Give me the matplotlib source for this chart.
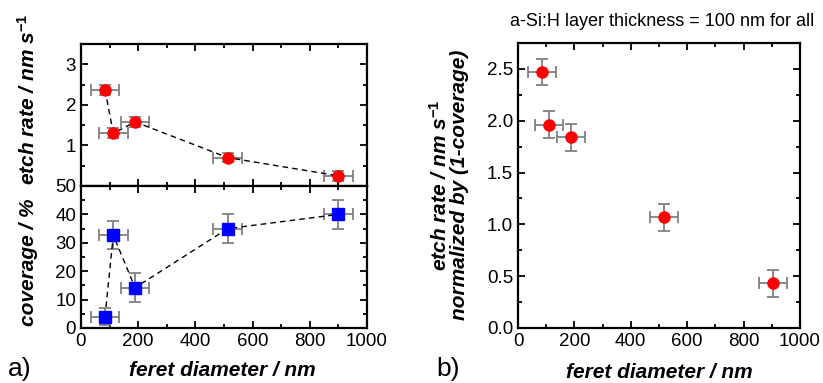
import numpy as np
import matplotlib.pyplot as plt
from matplotlib.ticker import MultipleLocator

plt.rcParams['font.family'] = ['Liberation Sans', 'DejaVu Sans']
plt.rcParams['mathtext.fontset'] = 'custom'
plt.rcParams['mathtext.it'] = 'Liberation Sans:italic:bold'
plt.rcParams['mathtext.rm'] = 'Liberation Sans:bold'

# data
feret = [84, 113, 189, 513, 900]
feret_err = [50, 50, 50, 50, 50]
etch = [2.37, 1.30, 1.58, 0.70, 0.25]
etch_err = [0.12, 0.12, 0.12, 0.12, 0.12]
cover = [4, 32.7, 14.2, 35, 40]
cover_err = [3, 5, 5, 5, 5]
feret_b = [85, 110, 188, 517, 905]
etch_norm = [2.47, 1.96, 1.84, 1.07, 0.43]
etch_norm_err = [0.13, 0.13, 0.13, 0.13, 0.13]

W, H = 823, 383
fig = plt.figure(figsize=(W/100, H/100), dpi=100)

def box(x0, y0, x1, y1):
    return fig.add_axes([x0/W, 1-y1/H, (x1-x0)/W, (y1-y0)/H])

ax1 = box(81, 44, 367, 186)
ax2 = box(81, 186, 367, 328)
ax3 = box(518, 43, 800, 328)

ebkw = dict(ecolor='#808080', elinewidth=1.3, capsize=4, capthick=1.3, linestyle='none')

ax1.errorbar(feret, etch, xerr=feret_err, yerr=etch_err, fmt='none', **ebkw)
ax1.plot(feret, etch, 'k--', lw=1, dashes=(4, 3))
ax1.plot(feret, etch, 'o', color='red', ms=8, zorder=5)

ax2.errorbar(feret, cover, xerr=feret_err, yerr=cover_err, fmt='none', **ebkw)
ax2.plot(feret, cover, 'k--', lw=1, dashes=(4, 3))
ax2.plot(feret, cover, 's', color='blue', ms=8, zorder=5)

ax3.errorbar(feret_b, etch_norm, xerr=feret_err, yerr=etch_norm_err, fmt='none', **ebkw)
ax3.plot(feret_b, etch_norm, 'o', color='red', ms=8, zorder=5)

for ax in (ax1, ax2, ax3):
    ax.set_xlim(0, 1000)
    ax.xaxis.set_major_locator(MultipleLocator(200))
    ax.xaxis.set_minor_locator(MultipleLocator(100))
    ax.tick_params(which='both', direction='in', top=True, right=True, labelsize=13.5, width=1.3)
    ax.tick_params(which='major', length=5)
    ax.tick_params(which='minor', length=3)
    for s in ax.spines.values():
        s.set_linewidth(1.6)

ax1.set_ylim(0, 3.5)
ax1.set_yticks([1, 2, 3])
ax1.yaxis.set_minor_locator(MultipleLocator(0.5))
ax1.tick_params(labelbottom=False)

ax2.set_ylim(0, 50)
ax2.yaxis.set_major_locator(MultipleLocator(10))
ax2.yaxis.set_minor_locator(MultipleLocator(5))

ax3.set_ylim(0, 2.75)
ax3.yaxis.set_major_locator(MultipleLocator(0.5))
ax3.yaxis.set_minor_locator(MultipleLocator(0.25))
ax3.yaxis.set_major_formatter(plt.FormatStrFormatter('%.1f'))

lab = dict(fontsize=15, fontweight='bold', fontstyle='italic')
fig.text(28/W, 1-99/H, 'etch rate / nm s$^{-1}$', rotation=90, ha='center', va='center', **lab)
fig.text(28/W, 1-262/H, 'coverage / %', rotation=90, ha='center', va='center', **lab)
fig.text(449/W, 1-185/H, 'etch rate / nm s$^{-1}$\nnormalized by (1-coverage)', rotation=90,
         ha='center', va='center', linespacing=0.9, **lab)

fig.text(222/W, 1-371/H, 'feret diameter / nm', ha='center', va='center', **lab)
fig.text(659/W, 1-372/H, 'feret diameter / nm', ha='center', va='center', **lab)
fig.text(8/W, 1-369/H, 'a)', fontsize=19, va='center')
fig.text(436/W, 1-369/H, 'b)', fontsize=19, va='center')
fig.text(662/W, 1-21/H, 'a-Si:H layer thickness = 100 nm for all', fontsize=13, ha='center', va='center')

fig.savefig('out.png', dpi=100)
